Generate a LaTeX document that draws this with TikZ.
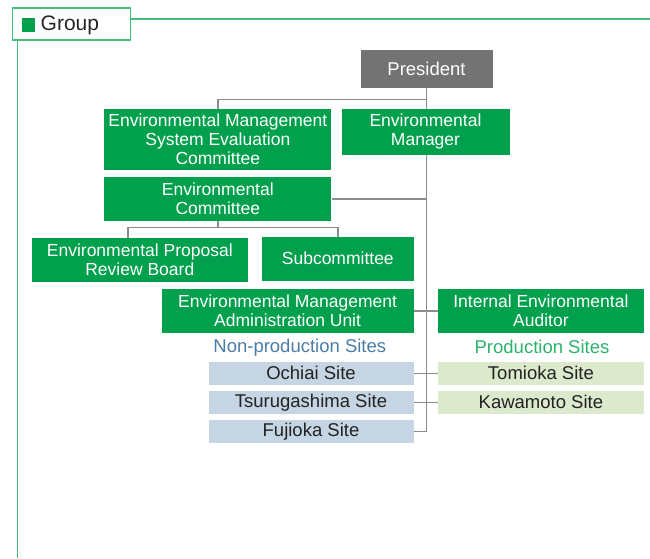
\documentclass[tikz,border=0pt]{standalone}
\usepackage{fontspec}
\setmainfont{Liberation Sans}
\usetikzlibrary{backgrounds}
\definecolor{boxgreen}{HTML}{00A04C}
\definecolor{presgray}{HTML}{737373}
\definecolor{linegray}{HTML}{8C8C8C}
\definecolor{framegreen}{HTML}{45BB7D}
\definecolor{siteblue}{HTML}{C5D5E3}
\definecolor{sitegreen}{HTML}{DCE9CC}
\definecolor{nonprodtext}{HTML}{4A7CA6}
\definecolor{prodtext}{HTML}{2DB36E}
\definecolor{sitetext}{HTML}{222222}

\begin{document}
\begin{tikzpicture}[x=1pt, y=-1pt,
  conn/.style={draw=linegray, line width=1.6pt},
  greenbox/.style={fill=boxgreen, text=white, align=center, inner sep=0pt, font=\fontsize{17.5}{19}\selectfont},
  sitebox/.style={inner sep=0pt, minimum width=205pt, minimum height=22.7pt, text=sitetext, font=\fontsize{18.5}{20}\selectfont}]
\useasboundingbox (0,0) rectangle (650,558);

\node[draw=framegreen, line width=1.6pt, minimum width=118pt, minimum height=32pt, inner sep=0pt] (group) at (71.3,24) {};
\node[fill=boxgreen, minimum size=13.5pt, inner sep=0pt] (groupmark) at (28.3,25) {};
\node[anchor=west, inner sep=0pt, text=black!85, font=\fontsize{21}{24}\selectfont] (grouplabel) at (40.5,25) {Group};
\coordinate (topline) at (650,19);
\coordinate (leftline) at (17.3,558);
\draw[framegreen, line width=1.6pt] (group.east |- topline) -- (topline);
\draw[framegreen, line width=1.6pt] (leftline |- group.south) -- (leftline);

\node[fill=presgray, text=white, inner sep=0pt, minimum width=132pt, minimum height=38pt, font=\fontsize{18.5}{20}\selectfont] (president) at (426.5,68.9) {President};
\node[greenbox, minimum width=227pt, minimum height=61pt] (emseval) at (217.8,139.4) {Environmental Management\\System Evaluation\\Committee};
\node[greenbox, minimum width=168pt, minimum height=46pt] (envmanager) at (425.5,131.9) {Environmental\\Manager};
\node[greenbox, minimum width=227pt, minimum height=44pt] (envcommittee) at (217.8,198.9) {Environmental\\Committee};
\node[greenbox, minimum width=216.5pt, minimum height=44pt] (proposal) at (139.8,259.7) {Environmental Proposal\\Review Board};
\node[greenbox, minimum width=152pt, minimum height=44pt] (subcommittee) at (337.8,258.7) {Subcommittee};
\node[greenbox, minimum width=252pt, minimum height=44pt] (admin) at (287.6,310.9) {Environmental Management\\Administration Unit};
\node[greenbox, minimum width=206pt, minimum height=44pt] (auditor) at (540.9,310.9) {Internal Environmental\\Auditor};

\node[text=nonprodtext, inner sep=0pt, font=\fontsize{18.5}{20}\selectfont] (nonprod) at (299.8,347.3) {Non-production Sites};
\node[text=prodtext, inner sep=0pt, font=\fontsize{18.5}{20}\selectfont] (prod) at (542,347.3) {Production Sites};

\node[sitebox, fill=siteblue] (ochiai) at (311,373.3) {Ochiai Site};
\node[sitebox, fill=siteblue] (tsurugashima) at (311,402.3) {Tsurugashima Site};
\node[sitebox, fill=siteblue] (fujioka) at (311,431.3) {Fujioka Site};
\node[sitebox, fill=sitegreen, minimum width=206pt] (tomioka) at (540.9,373.3) {Tomioka Site};
\node[sitebox, fill=sitegreen, minimum width=206pt] (kawamoto) at (540.9,402.3) {Kawamoto Site};

\coordinate (evalsplit) at (426,99.3);
\coordinate (ecfork) at (217.8,227.3);
\begin{scope}[on background layer]
\draw[conn] (president.south) -- (president.south |- fujioka.east) -- (fujioka.east);
\draw[conn] (emseval.north) |- (evalsplit);
\draw[conn] (envcommittee.east) -- (envcommittee.east -| president.south);
\draw[conn] (envcommittee.south) -- (ecfork);
\draw[conn] ([xshift=-12pt]proposal.north) |- (ecfork);
\draw[conn] (subcommittee.north) |- (ecfork);
\draw[conn] (admin.east) -- (auditor.west);
\draw[conn] (ochiai.east) -- (tomioka.west);
\draw[conn] (tsurugashima.east) -- (kawamoto.west);
\end{scope}
\end{tikzpicture}
\end{document}
